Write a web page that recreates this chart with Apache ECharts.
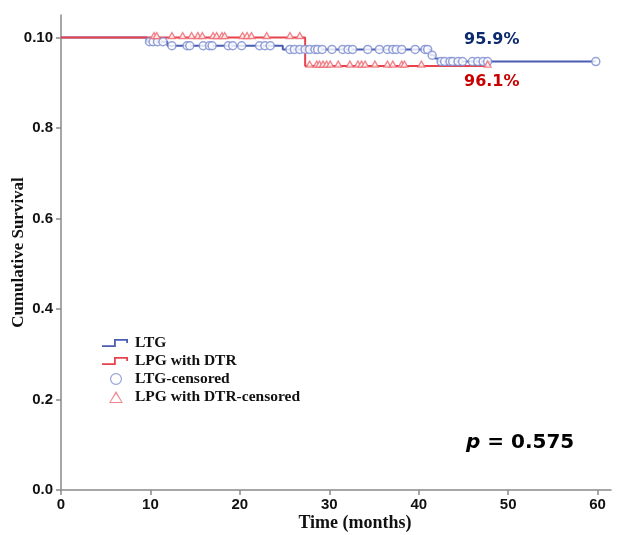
<!DOCTYPE html>
<html>
<head>
<meta charset="utf-8">
<script src="https://cdn.jsdelivr.net/npm/echarts@6/dist/echarts.min.js"></script>
<style>
  html, body { margin: 0; padding: 0; background: #fff; }
  #chart { width: 619px; height: 535px; }
</style>
</head>
<body>
<div id="chart"></div>
<script>
// Kaplan-Meier step points [time, survival]
const ltgSteps = [[0, 1], [9.6, 0.991], [11.9, 0.982], [24.8, 0.974], [41.3, 0.961], [41.8, 0.954], [42.2, 0.947], [59.8, 0.947]]
const lpgSteps = [[0, 1], [27.3, 0.937], [47.7, 0.937]]

// censored times
const ltgCensored = [9.9, 10.3, 10.8, 11.4, 12.4, 14.1, 14.4, 15.9, 16.6, 16.9, 18.7, 19.2, 20.2, 22.2, 22.8, 23.4,
    25.6, 26.1, 26.7, 27.3, 27.8, 28.4, 28.7, 29.2, 30.3, 31.5, 32.1, 32.6, 34.3, 35.6, 36.5, 37.1, 37.5, 38.1,
    39.6, 40.7, 41.0, 41.5, 42.5, 42.9, 43.5, 43.8, 44.4, 44.9, 46.0, 46.6, 47.2, 47.7, 59.8]
const lpgCensored = [10.4, 10.7, 12.4, 13.6, 14.6, 15.3, 15.8, 17.0, 17.4, 18.0, 18.3, 20.3, 20.8, 21.3, 23.0, 25.6, 26.7,
    27.8, 28.6, 28.9, 29.3, 29.7, 30.1, 31.0, 32.3, 33.2, 33.6, 34.0, 35.1, 36.5, 37.1, 38.1, 38.4, 40.3, 47.7]

const xTicks = [0, 10, 20, 30, 40, 50, 60]
const yTicks = [0, 0.2, 0.4, 0.6, 0.8, 1.0]

// survival level of a step curve at time t
function levelAt(steps, t) {
    let s = steps[0][1]
    for (const p of steps) {
        if (p[0] <= t) s = p[1]
    }
    return s
}

const blue = '#4b5db2'
const blueMark = '#7b8bd0'
const red = '#e8424c'
const redMark = '#ee6870'

// legend icons (outlines built as filled rings); the leading moves pad the box
const stepIcon = 'path://M0,0 M28,12 M0,8.2 L12,8.2 L12,2 L26,2 L26,6 L24.2,6 L24.2,3.8 L13.8,3.8 L13.8,10 L0,10 Z'
const triIcon = 'path://M6,0 L12,10.4 L0,10.4 Z M6,2.4 L1.4,9.5 L10.6,9.5 Z'
const ringIcon = 'path://M6,0 A6,6 0 1,0 6.001,0 Z M6,1.2 A4.8,4.8 0 1,1 5.999,1.2 Z'

const axisColor = '#8a8a8a'
const chart = echarts.init(document.getElementById('chart'))

chart.setOption({
    backgroundColor: '#fff',
    animation: false,
    grid: { left: 61, right: 8, top: 15, bottom: 45, outerBoundsMode: 'none', containLabel: false },
    legend: {
        orient: 'vertical',
        left: 97,
        top: 330,
        itemWidth: 28,
        itemHeight: 12,
        itemGap: 2,
        textStyle: { fontFamily: 'Liberation Serif', fontWeight: 'bold', fontSize: 15.5, color: '#111' },
        data: [
            { name: 'LTG', icon: stepIcon, itemStyle: { color: blue } },
            { name: 'LPG with DTR', icon: stepIcon, itemStyle: { color: red } },
            { name: 'LTG-censored', icon: ringIcon, itemStyle: { color: blueMark, borderWidth: 0 } },
            { name: 'LPG with DTR-censored', icon: triIcon, itemStyle: { color: redMark, borderWidth: 0 } }
        ]
    },
    xAxis: {
        type: 'value',
        min: 0,
        max: 61.5,
        name: 'Time (months)',
        nameLocation: 'middle',
        nameMoveOverlap: false,
        nameGap: 24,
        nameTextStyle: { fontFamily: 'Liberation Serif', fontWeight: 'bold', fontSize: 18, color: '#111', padding: [0, 0, 0, 38] },
        axisLine: { lineStyle: { color: axisColor, width: 1.5 } },
        axisTick: { show: true, length: 5, customValues: xTicks, lineStyle: { color: axisColor, width: 1.5 } },
        axisLabel: { customValues: xTicks, margin: 7, fontFamily: 'Liberation Sans', fontWeight: 'bold', fontSize: 15, color: '#111' },
        splitLine: { show: false }
    },
    yAxis: {
        type: 'value',
        min: 0,
        max: 1.05,
        name: 'Cumulative Survival',
        nameLocation: 'middle',
        nameMoveOverlap: false,
        nameGap: 34,
        nameTextStyle: { fontFamily: 'Liberation Serif', fontWeight: 'bold', fontSize: 17, color: '#111' },
        axisLine: { show: true, lineStyle: { color: axisColor, width: 1.5 } },
        axisTick: { show: true, length: 5, customValues: yTicks, lineStyle: { color: axisColor, width: 1.5 } },
        axisLabel: {
            customValues: yTicks,
            margin: 8,
            fontFamily: 'Liberation Sans', fontWeight: 'bold', fontSize: 15, color: '#111',
            formatter: v => (Math.abs(v - 1) < 1e-9 ? '0.10' : v.toFixed(1))
        },
        splitLine: { show: false }
    },
    series: [
        {
            name: 'LTG',
            type: 'line',
            step: 'end',
            symbol: 'none',
            lineStyle: { color: blue, width: 2 },
            itemStyle: { color: blue },
            data: ltgSteps,
            z: 2
        },
        {
            name: 'LPG with DTR',
            type: 'line',
            step: 'end',
            symbol: 'none',
            lineStyle: { color: red, width: 2 },
            itemStyle: { color: red },
            data: lpgSteps,
            z: 3
        },
        {
            name: 'LTG-censored',
            type: 'scatter',
            symbol: 'circle',
            symbolSize: 8,
            symbolKeepAspect: true,
            itemStyle: { color: '#fff', borderColor: blueMark, borderWidth: 1.5 },
            data: ltgCensored.map(t => [t, levelAt(ltgSteps, t)]),
            z: 4
        },
        {
            name: 'LPG with DTR-censored',
            type: 'scatter',
            symbol: 'triangle',
            symbolSize: [7, 6],
            symbolOffset: [0, -2],
            symbolKeepAspect: true,
            itemStyle: { color: '#fff', borderColor: redMark, borderWidth: 1.3 },
            data: lpgCensored.map(t => [t, levelAt(lpgSteps, t)]),
            z: 5
        }
    ],
    graphic: [
        {
            type: 'text',
            left: 464,
            top: 32,
            style: { text: '95.9%', fontFamily: 'DejaVu Sans', fontWeight: 'bold', fontSize: 16, fill: '#0b2a6f' }
        },
        {
            type: 'text',
            left: 464,
            top: 74,
            style: { text: '96.1%', fontFamily: 'DejaVu Sans', fontWeight: 'bold', fontSize: 16, fill: '#c80000' }
        },
        {
            type: 'text',
            left: 466,
            top: 433,
            style: {
                text: '{p|p}{v| = 0.575}',
                rich: {
                    p: { fontFamily: 'DejaVu Sans', fontWeight: 'bold', fontStyle: 'italic', fontSize: 20, fill: '#000' },
                    v: { fontFamily: 'DejaVu Sans', fontWeight: 'bold', fontSize: 20, fill: '#000' }
                }
            }
        }
    ]
})
</script>
</body>
</html>
